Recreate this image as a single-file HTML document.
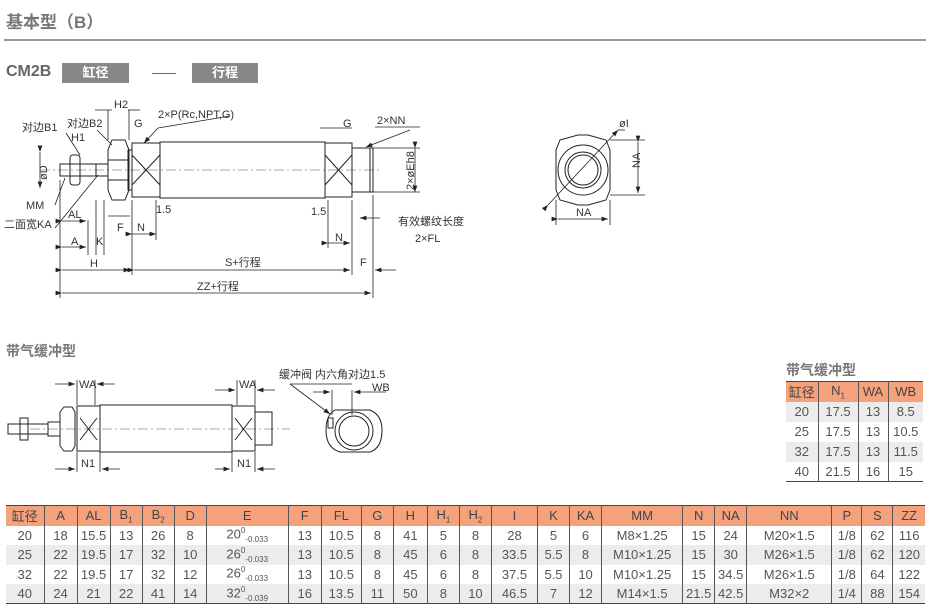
<!DOCTYPE html>
<html><head><meta charset="utf-8">
<style>
*{margin:0;padding:0;box-sizing:border-box}
body{width:933px;height:614px;background:#fff;position:relative;overflow:hidden;font-family:"Liberation Sans","Noto Sans CJK SC",sans-serif;color:#444}
.abs{position:absolute}
table{border-collapse:collapse;position:absolute;font-size:13px;color:#555;table-layout:fixed}
td{text-align:center;border-left:1px solid #555;padding:0;white-space:nowrap}
td:first-child{border-left:none}
tr.h td{background:#f4a27c;color:#444}
tr.g td{background:#ececec}
table{border-top:1.5px solid #444;border-bottom:1.5px solid #444}
sub,sup{font-size:8px}
</style></head><body>
<div class="abs" style="left:6px;top:8px;font-size:17px;font-weight:bold;color:#777">基本型（B）</div>
<div class="abs" style="left:4px;top:39px;width:922px;height:2px;background:#999"></div>
<div class="abs" style="left:6px;top:63px;font-size:16px;font-weight:bold;color:#666">CM2B</div>
<div class="abs" style="left:62px;top:63px;width:67px;height:20px;background:#888;color:#fff;font-size:13px;font-weight:bold;text-align:center;line-height:20px">缸径</div>
<div class="abs" style="left:152px;top:73px;width:24px;height:1px;background:#666"></div>
<div class="abs" style="left:192px;top:63px;width:66px;height:20px;background:#888;color:#fff;font-size:13px;font-weight:bold;text-align:center;line-height:20px">行程</div>
<div class="abs" style="left:6px;top:341px;font-size:14px;font-weight:bold;color:#777">带气缓冲型</div>
<div class="abs" style="left:786px;top:360px;font-size:14px;font-weight:bold;color:#777">带气缓冲型</div>

<svg class="abs" style="left:0;top:0" width="933" height="500" font-family="Liberation Sans,Noto Sans CJK SC,sans-serif" font-size="11" fill="none" stroke="#222" stroke-width="1">
<defs><marker id="a" markerWidth="8" markerHeight="6" refX="8" refY="3" orient="auto"><path d="M0,0L8,3L0,6z" fill="#222" stroke="none"/></marker></defs>
<!-- main cylinder -->
<line x1="40" y1="170" x2="380" y2="170" stroke="#aaa" stroke-dasharray="10,3,2,3"/>
<rect x="160" y="142" width="165" height="56"/>
<rect x="132" y="143" width="28" height="54"/>
<line x1="132" y1="155" x2="160" y2="185"/><line x1="160" y1="155" x2="132" y2="185"/>
<rect x="325" y="143" width="27" height="54"/>
<line x1="325" y1="155" x2="352" y2="185"/><line x1="352" y1="155" x2="325" y2="185"/>
<rect x="352" y="148" width="21" height="44"/>
<line x1="370" y1="148" x2="370" y2="192"/>
<path d="M112,140 L125,140 L129,150 L129,190 L125,200 L112,200 L108,190 L108,150Z"/>
<line x1="108" y1="160" x2="129" y2="160"/><line x1="108" y1="180" x2="129" y2="180"/>
<rect x="128" y="150" width="4" height="40"/>
<rect x="96" y="164" width="12" height="12"/>
<rect x="70" y="155" width="10" height="30" rx="3"/>
<rect x="60" y="164" width="36" height="12"/>
<!-- dims -->
<g stroke-width="0.8">
<line x1="60" y1="180" x2="60" y2="298"/><line x1="132" y1="200" x2="132" y2="275"/><line x1="373" y1="195" x2="373" y2="298"/><line x1="352" y1="200" x2="352" y2="275"/>
<line x1="62" y1="270" x2="130" y2="270" marker-start="url(#a)" marker-end="url(#a)"/>
<line x1="134" y1="270" x2="350" y2="270" marker-start="url(#a)" marker-end="url(#a)"/>
<line x1="62" y1="293" x2="371" y2="293" marker-start="url(#a)" marker-end="url(#a)"/>
<line x1="396" y1="270" x2="375" y2="270" marker-end="url(#a)"/>
<line x1="62" y1="247" x2="86" y2="247" marker-start="url(#a)" marker-end="url(#a)"/>
<line x1="88" y1="220" x2="88" y2="255"/><line x1="96" y1="200" x2="96" y2="255"/><line x1="104" y1="200" x2="104" y2="255"/>
<line x1="62" y1="221" x2="86" y2="221" marker-start="url(#a)" marker-end="url(#a)"/>
<line x1="132" y1="234" x2="156" y2="234" marker-start="url(#a)" marker-end="url(#a)"/>
<line x1="156" y1="200" x2="156" y2="240"/>
<line x1="328" y1="243" x2="350" y2="243" marker-start="url(#a)" marker-end="url(#a)"/><line x1="328" y1="200" x2="328" y2="248"/>
<line x1="108" y1="216" x2="130" y2="216"/>
<line x1="40" y1="152" x2="40" y2="188" marker-start="url(#a)" marker-end="url(#a)"/>
<line x1="415" y1="148" x2="415" y2="192" marker-start="url(#a)" marker-end="url(#a)"/>
<line x1="373" y1="148" x2="420" y2="148"/><line x1="373" y1="192" x2="420" y2="192"/>
<line x1="380" y1="218" x2="360" y2="218" marker-end="url(#a)"/>
<line x1="95" y1="110" x2="112" y2="110"/><line x1="140" y1="110" x2="128" y2="110"/>
<line x1="108" y1="110" x2="108" y2="140"/><line x1="129" y1="110" x2="129" y2="140"/>
<line x1="158" y1="128" x2="144" y2="143" marker-end="url(#a)"/><line x1="158" y1="128" x2="230" y2="116"/>
<line x1="410" y1="130" x2="366" y2="147" marker-end="url(#a)"/><line x1="375" y1="127" x2="420" y2="127"/>
<line x1="320" y1="128" x2="352" y2="128"/>
<line x1="66" y1="133" x2="80" y2="155"/><line x1="97" y1="130" x2="112" y2="145"/>
<line x1="55" y1="205" x2="65" y2="178"/><line x1="55" y1="228" x2="98" y2="175"/>
</g>
<g fill="#333" stroke="none">
<text x="114" y="108">H2</text><text x="134" y="127">G</text><text x="158" y="118">2×P(Rc,NPT,G)</text>
<text x="22" y="131">对边B1</text><text x="67" y="127">对边B2</text><text x="71" y="141">H1</text>
<text x="26" y="181" transform="rotate(-90 36 170)">øD</text>
<text x="26" y="209">MM</text><text x="4" y="228">二面宽KA</text>
<text x="68" y="218">AL</text><text x="71" y="245">A</text><text x="96" y="245">K</text>
<text x="117" y="231">F</text><text x="137" y="231">N</text><text x="156" y="213">1.5</text>
<text x="311" y="215">1.5</text><text x="335" y="241">N</text><text x="343" y="127">G</text><text x="377" y="124">2×NN</text>
<text x="398" y="225">有效螺纹长度</text><text x="415" y="242">2×FL</text>
<text x="414" y="190" transform="rotate(-90 414 190)">2×øEh8</text>
<text x="90" y="267">H</text><text x="225" y="266">S+行程</text><text x="360" y="266">F</text>
<text x="197" y="290">ZZ+行程</text>
</g>
<!-- end view -->
<path d="M560,140 L578,135 L588,135 L606,140 L610,150 L610,190 L606,200 L588,205 L578,205 L560,200 L556,190 L556,150Z"/>
<circle cx="583" cy="170" r="25"/><circle cx="583" cy="170" r="18"/><circle cx="583" cy="170" r="15"/>
<g stroke-width="0.8">
<line x1="548" y1="205" x2="618" y2="130" marker-start="url(#a)" marker-end="url(#a)"/><line x1="618" y1="130" x2="625" y2="130"/>
<line x1="610" y1="140" x2="645" y2="140"/><line x1="610" y1="195" x2="645" y2="195"/>
<line x1="638" y1="142" x2="638" y2="193" marker-start="url(#a)" marker-end="url(#a)"/>
<line x1="556" y1="200" x2="556" y2="225"/><line x1="610" y1="200" x2="610" y2="225"/>
<line x1="558" y1="219" x2="608" y2="219" marker-start="url(#a)" marker-end="url(#a)"/>
</g>
<g fill="#333" stroke="none"><text x="619" y="127">øI</text><text x="576" y="216">NA</text><text x="634" y="174" transform="rotate(-90 634 168)">NA</text></g>

<!-- cushion -->
<line x1="30" y1="429" x2="290" y2="429" stroke="#aaa" stroke-dasharray="10,3,2,3"/>
<rect x="100" y="405" width="132" height="47"/>
<rect x="77" y="406" width="23" height="45"/>
<line x1="80" y1="418" x2="97" y2="440"/><line x1="97" y1="418" x2="80" y2="440"/>
<rect x="232" y="406" width="23" height="45"/>
<line x1="235" y1="418" x2="252" y2="440"/><line x1="252" y1="418" x2="235" y2="440"/>
<rect x="255" y="412" width="17" height="33"/>
<path d="M64,407 L72,407 L75,412 L75,446 L72,451 L64,451 L60,446 L60,412Z"/>
<rect x="48" y="422" width="12" height="14"/>
<rect x="20" y="418" width="8" height="22"/><rect x="8" y="424" width="40" height="10"/>
<g stroke-width="0.8">
<line x1="77" y1="380" x2="77" y2="405"/><line x1="95" y1="380" x2="95" y2="405"/>
<line x1="55" y1="384" x2="75" y2="384" marker-end="url(#a)"/><line x1="115" y1="384" x2="97" y2="384" marker-end="url(#a)"/>
<line x1="237" y1="380" x2="237" y2="405"/><line x1="255" y1="380" x2="255" y2="405"/>
<line x1="215" y1="390" x2="235" y2="390" marker-end="url(#a)"/><line x1="275" y1="390" x2="257" y2="390" marker-end="url(#a)"/>
<line x1="77" y1="452" x2="77" y2="472"/><line x1="100" y1="452" x2="100" y2="472"/>
<line x1="55" y1="469" x2="75" y2="469" marker-end="url(#a)"/><line x1="120" y1="469" x2="102" y2="469" marker-end="url(#a)"/>
<line x1="232" y1="452" x2="232" y2="472"/><line x1="255" y1="452" x2="255" y2="472"/>
<line x1="215" y1="469" x2="230" y2="469" marker-end="url(#a)"/><line x1="275" y1="469" x2="257" y2="469" marker-end="url(#a)"/>
<line x1="290" y1="384" x2="330" y2="414" marker-end="url(#a)"/><line x1="290" y1="384" x2="352" y2="384"/>
<line x1="313" y1="392" x2="330" y2="392" marker-end="url(#a)"/><line x1="386" y1="392" x2="354" y2="392" marker-end="url(#a)"/>
<line x1="332" y1="390" x2="332" y2="415"/><line x1="352" y1="390" x2="352" y2="415"/>
</g>
<path d="M335,410 L370,410 Q382,415 382,430 Q382,448 370,452 L340,452 Q326,448 326,430 Q326,415 335,410Z"/>
<circle cx="354" cy="431" r="19"/><circle cx="354" cy="431" r="15"/>
<rect x="328" y="418" width="5" height="10"/>
<g fill="#333" stroke="none">
<text x="79" y="388">WA</text><text x="239" y="388">WA</text><text x="81" y="467">N1</text><text x="237" y="467">N1</text>
<text x="279" y="378">缓冲阀 内六角对边1.5</text><text x="372" y="391">WB</text>
</g>
</svg>

<table style="left:786px;top:381px;width:137px;font-size:13px">
<colgroup><col style="width:32px"><col style="width:40px"><col style="width:30px"><col style="width:35px"></colgroup>
<tr class="h" style="height:20px"><td>缸径</td><td>N<sub>1</sub></td><td>WA</td><td>WB</td></tr>
<tr class="g" style="height:20px"><td>20</td><td>17.5</td><td>13</td><td>8.5</td></tr>
<tr style="height:20px"><td>25</td><td>17.5</td><td>13</td><td>10.5</td></tr>
<tr class="g" style="height:20px"><td>32</td><td>17.5</td><td>13</td><td>11.5</td></tr>
<tr style="height:20px"><td>40</td><td>21.5</td><td>16</td><td>15</td></tr>
</table>

<table style="left:6px;top:505px;width:919px">
<colgroup>
<col style="width:38px"><col style="width:33px"><col style="width:33px"><col style="width:32px"><col style="width:32px"><col style="width:32px"><col style="width:82px"><col style="width:33px"><col style="width:40px"><col style="width:32px"><col style="width:34px"><col style="width:32px"><col style="width:32px"><col style="width:46px"><col style="width:32px"><col style="width:32px"><col style="width:81px"><col style="width:32px"><col style="width:32px"><col style="width:85px"><col style="width:30px"><col style="width:31px"><col style="width:32px"></colgroup>
<tr class="h" style="height:20px"><td>缸径</td><td>A</td><td>AL</td><td>B<sub>1</sub></td><td>B<sub>2</sub></td><td>D</td><td>E</td><td>F</td><td>FL</td><td>G</td><td>H</td><td>H<sub>1</sub></td><td>H<sub>2</sub></td><td>I</td><td>K</td><td>KA</td><td>MM</td><td>N</td><td>NA</td><td>NN</td><td>P</td><td>S</td><td>ZZ</td></tr>
<tr style="height:19.5px"><td>20</td><td>18</td><td>15.5</td><td>13</td><td>26</td><td>8</td><td>20<sup>0</sup><sub>-0.033</sub></td><td>13</td><td>10.5</td><td>8</td><td>41</td><td>5</td><td>8</td><td>28</td><td>5</td><td>6</td><td>M8×1.25</td><td>15</td><td>24</td><td>M20×1.5</td><td>1/8</td><td>62</td><td>116</td></tr>
<tr class="g" style="height:19.5px"><td>25</td><td>22</td><td>19.5</td><td>17</td><td>32</td><td>10</td><td>26<sup>0</sup><sub>-0.033</sub></td><td>13</td><td>10.5</td><td>8</td><td>45</td><td>6</td><td>8</td><td>33.5</td><td>5.5</td><td>8</td><td>M10×1.25</td><td>15</td><td>30</td><td>M26×1.5</td><td>1/8</td><td>62</td><td>120</td></tr>
<tr style="height:19.5px"><td>32</td><td>22</td><td>19.5</td><td>17</td><td>32</td><td>12</td><td>26<sup>0</sup><sub>-0.033</sub></td><td>13</td><td>10.5</td><td>8</td><td>45</td><td>6</td><td>8</td><td>37.5</td><td>5.5</td><td>10</td><td>M10×1.25</td><td>15</td><td>34.5</td><td>M26×1.5</td><td>1/8</td><td>64</td><td>122</td></tr>
<tr class="g" style="height:19.5px"><td>40</td><td>24</td><td>21</td><td>22</td><td>41</td><td>14</td><td>32<sup>0</sup><sub>-0.039</sub></td><td>16</td><td>13.5</td><td>11</td><td>50</td><td>8</td><td>10</td><td>46.5</td><td>7</td><td>12</td><td>M14×1.5</td><td>21.5</td><td>42.5</td><td>M32×2</td><td>1/4</td><td>88</td><td>154</td></tr>
</table>
</body></html>
